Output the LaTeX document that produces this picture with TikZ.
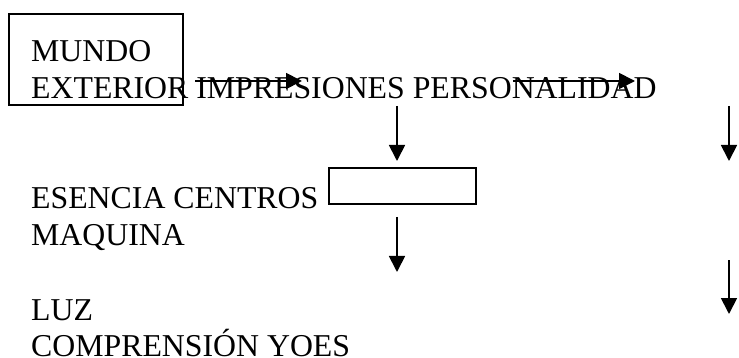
\documentclass[tikz,border=0pt]{standalone}
\usepackage{fontspec}
\setmainfont{Liberation Serif}
\usetikzlibrary{arrows.meta}
\tikzset{
  txt/.style={anchor=base west, inner sep=0pt, font=\fontsize{31.8}{36.75}\selectfont},
  frame/.style={draw, line width=1.2pt, inner sep=0pt},
  arr/.style={line width=1.8pt, -{Triangle[length=16pt,width=16pt]}}
}
\begin{document}
\begin{tikzpicture}[x=1pt,y=-1pt]
\useasboundingbox (0,0) rectangle (739,358);
% boxes
\node[frame, minimum width=174pt, minimum height=91pt] (box1) at (96,59.5) {};
\node[frame, minimum width=147pt, minimum height=36pt] (box2) at (402.5,186) {};
% texts
\node[txt] (l1) at (31,62) {MUNDO};
\node[txt] (l2) at (31,98.75) {EXTERIOR IMPRESIONES PERSONALIDAD};
\node[txt] (l3) at (31,209) {ESENCIA CENTROS};
\node[txt] (l4) at (31,245.75) {MAQUINA};
\node[txt] (l5) at (31,320) {LUZ};
\node[txt] (l6) at (31,356) {COMPRENSIÓN YOES};
% arrow ends
\coordinate (h1s) at (195,81); \coordinate (h1e) at (302,81);
\coordinate (h2s) at (513,81); \coordinate (h2e) at (635,81);
\coordinate (v1s) at (397,106); \coordinate (v1e) at (397,161);
\coordinate (v2s) at (729,106); \coordinate (v2e) at (729,161);
\coordinate (v3s) at (397,217); \coordinate (v3e) at (397,272);
\coordinate (v4s) at (729,260); \coordinate (v4e) at (729,314);
\draw[arr] (h1s) -- (h1e);
\draw[arr] (h2s) -- (h2e);
\draw[arr] (v1s) -- (v1e);
\draw[arr] (v2s) -- (v2e);
\draw[arr] (v3s) -- (v3e);
\draw[arr] (v4s) -- (v4e);
\end{tikzpicture}
\end{document}
